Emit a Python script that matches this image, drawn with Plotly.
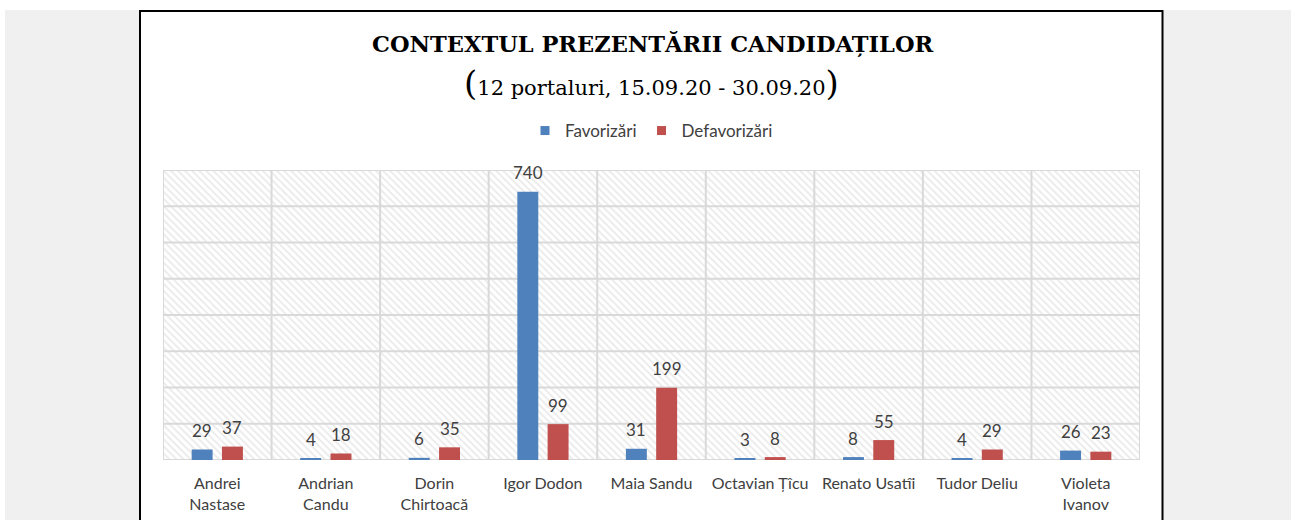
import plotly.graph_objects as go

# ---------------- data ----------------
categories = ["Andrei<br>Nastase", "Andrian<br>Candu", "Dorin<br>Chirtoacă", "Igor Dodon",
              "Maia Sandu", "Octavian Țîcu", "Renato Usatîi", "Tudor Deliu", "Violeta<br>Ivanov"]
favorizari = [29, 4, 6, 740, 31, 3, 8, 4, 26]
defavorizari = [37, 18, 35, 99, 199, 8, 55, 29, 23]
series_names = ["Favorizări", "Defavorizări"]
grid_values = [0, 100, 200, 300, 400, 500, 600, 700, 800]

# ---------------- style ----------------
W, H = 1291, 520
ML, MR, MT, MB = 163, 151, 170, 60
PW, PH = W - ML - MR, H - MT - MB
COL_BLUE = "#4f81bd"
COL_RED = "#c0504d"
GRID = "#d9d9d9"
TXT = "#404040"
SANS = "Lato, 'Open Sans', sans-serif"
SERIF = "'DejaVu Serif', 'Liberation Serif', serif"

BAR_W = 0.193
BAR_GAP = 0.043


def px(xp):
    return (xp - ML) / PW


def py(yp):
    return (H - MB - yp) / PH


idx = list(range(len(categories)))
x_lo, x_hi = -0.5, len(categories) - 0.5
y_max = grid_values[-1]

fig = go.Figure()

# hatched plot background (main subplot)
fig.add_trace(go.Bar(
    x=idx, y=[y_max] * len(idx), width=1, offset=-0.5,
    marker=dict(color="white", line=dict(width=0),
                pattern=dict(shape="\\", size=5, solidity=0.35, fgcolor="#d6d6d6", bgcolor="white")),
    showlegend=False, hoverinfo="skip",
))

# grid lines (above hatch, below bars)
gx, gy = [], []
for v in grid_values:
    gx += [x_lo, x_hi, None]
    gy += [v, v, None]
for i in idx + [len(idx)]:
    b = i - 0.5
    gx += [b, b, None]
    gy += [0, y_max, None]
fig.add_trace(go.Scatter(x=gx, y=gy, mode="lines", line=dict(color=GRID, width=2),
                         showlegend=False, hoverinfo="skip", cliponaxis=False))

# data bars on overlay subplot
fig.add_trace(go.Bar(
    x=idx, y=favorizari, xaxis="x2", yaxis="y", width=BAR_W, offset=-(BAR_GAP + BAR_W),
    marker=dict(color=COL_BLUE, line=dict(width=0)), name=series_names[0], showlegend=False,
))
fig.add_trace(go.Bar(
    x=idx, y=defavorizari, xaxis="x2", yaxis="y", width=BAR_W, offset=BAR_GAP,
    marker=dict(color=COL_RED, line=dict(width=0)), name=series_names[1], showlegend=False,
))

# legend-only entries
for nm, c in zip(series_names, [COL_BLUE, COL_RED]):
    fig.add_trace(go.Scatter(x=[None], y=[None], xaxis="x2", mode="markers", name=nm,
                             marker=dict(symbol="square", size=9, color=c)))

annotations = []
off = BAR_GAP + BAR_W / 2
for i, (a, b) in enumerate(zip(favorizari, defavorizari)):
    for val, sgn in ((a, -1), (b, 1)):
        annotations.append(dict(x=i + sgn * off, y=val, xref="x", yref="y", text=str(val),
                                showarrow=False, yshift=19, yanchor="middle",
                                font=dict(family=SANS, size=17, color=TXT)))

annotations.append(dict(x=0.502, y=py(44), xref="paper", yref="paper", showarrow=False,
                        text="<b>CONTEXTUL PREZENTĂRII CANDIDAȚILOR</b>", yanchor="middle",
                        font=dict(family=SERIF, size=22.5, color="black")))
annotations.append(dict(x=0.5, y=py(83), xref="paper", yref="paper", showarrow=False,
                        text='<span style="font-size:34px">(</span>12 portaluri, 15.09.20 - 30.09.20'
                             '<span style="font-size:34px">)</span>',
                        yanchor="middle",
                        font=dict(family=SERIF, size=21, color="black")))

shapes = [
    dict(type="rect", xref="paper", yref="paper", x0=px(5), x1=px(1300), y0=py(540), y1=py(10),
         fillcolor="#f0f0f0", line=dict(width=0), layer="below"),
    dict(type="rect", xref="paper", yref="paper", x0=px(140), x1=px(1162.5), y0=py(540), y1=py(11),
         fillcolor="white", line=dict(color="black", width=2), layer="below"),
]

fig.update_layout(
    width=W, height=H,
    margin=dict(l=ML, r=MR, t=MT, b=MB, pad=0, autoexpand=False),
    paper_bgcolor="white", plot_bgcolor="rgba(0,0,0,0)",
    barmode="overlay",
    showlegend=True,
    legend=dict(orientation="h", x=0.5, xanchor="center", y=py(131), yanchor="middle",
                font=dict(family=SANS, size=17, color="#404040"), bgcolor="rgba(0,0,0,0)",
                itemwidth=30),
    xaxis=dict(range=[x_lo, x_hi], tickvals=idx, ticktext=categories, showgrid=False,
               zeroline=False, showline=False, ticks="", fixedrange=True, automargin=False,
               ticklabelstandoff=12,
               tickfont=dict(family=SANS, size=16, color=TXT)),
    xaxis2=dict(range=[x_lo, x_hi], overlaying="x", visible=False, fixedrange=True),
    yaxis=dict(range=[0, y_max], showgrid=False, zeroline=False, showticklabels=False,
               showline=False, ticks="", fixedrange=True, automargin=False),
    annotations=annotations,
    shapes=shapes,
)

fig.write_html("out.html", config={"displayModeBar": False},
               post_script="document.body.style.margin='0';")
